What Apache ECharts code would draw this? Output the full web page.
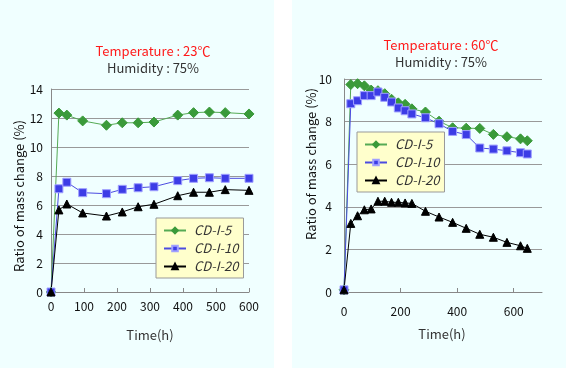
<!DOCTYPE html>
<html>
<head>
<meta charset="utf-8">
<script src="https://cdn.jsdelivr.net/npm/echarts@6/dist/echarts.min.js"></script>
<style>
html,body{margin:0;padding:0;background:#fff;}
#c{width:566px;height:368px;}
</style>
</head>
<body>
<div id="c"></div>
<script>
var seriesNames = ['CD-I-5', 'CD-I-10', 'CD-I-20'];

var timeLeft = [0, 24, 48, 96, 168, 216, 264, 312, 384, 432, 480, 528, 600];
var left5  = [0, 12.34, 12.2, 11.8, 11.5, 11.67, 11.67, 11.72, 12.2, 12.37, 12.41, 12.37, 12.28];
var left10 = [0, 7.12, 7.57, 6.85, 6.78, 7.08, 7.19, 7.26, 7.68, 7.84, 7.88, 7.84, 7.84];
var left20 = [0, 5.66, 6.07, 5.45, 5.24, 5.52, 5.88, 6.05, 6.64, 6.88, 6.88, 7.06, 7.01];

var timeRight = [0, 24, 48, 72, 96, 120, 144, 168, 192, 216, 240, 288, 336, 384, 432, 480, 528, 576, 624, 648];
var right5  = [0.1, 9.74, 9.78, 9.68, 9.48, 9.45, 9.31, 9.05, 8.88, 8.81, 8.6, 8.45, 8.02, 7.71, 7.69, 7.68, 7.4, 7.29, 7.19, 7.1];
var right10 = [0.1, 8.84, 8.98, 9.22, 9.22, 9.39, 9.14, 8.92, 8.64, 8.51, 8.36, 8.18, 7.9, 7.54, 7.39, 6.76, 6.71, 6.63, 6.54, 6.48];
var right20 = [0.1, 3.22, 3.58, 3.86, 3.9, 4.26, 4.26, 4.21, 4.21, 4.18, 4.16, 3.79, 3.52, 3.27, 2.99, 2.71, 2.57, 2.33, 2.17, 2.05];

var leftTitle = ['Temperature : 23℃', 'Humidity : 75%'];
var rightTitle = ['Temperature : 60℃', 'Humidity : 75%'];
var yName = 'Ratio of mass change (%)';
var xName = 'Time(h)';

var FONT = '"Noto Sans CJK JP", sans-serif';

function pairs(xs, ys) { return xs.map(function (x, i) { return [x, ys[i]]; }); }

var styles = [
  { color: '#3a9a3a', line: '#55aa55', symbol: 'diamond', size: [10, 10], border: '#3a9a3a' },
  { color: '#3c3ce6', line: '#4b4be0', symbol: 'rect', size: 8, border: '#a0a0ff' },
  { color: '#000000', line: '#000000', symbol: 'triangle', size: 8, border: '#000000' }
];

function mkSeries(name, idx, data, st) {
  return {
    type: 'line', name: name, xAxisIndex: idx, yAxisIndex: idx,
    data: data, symbol: st.symbol, symbolSize: st.size, showSymbol: true,
    lineStyle: { color: st.line, width: 1 },
    itemStyle: { color: st.color, borderColor: st.border, borderWidth: 1 },
    animation: false
  };
}

var leftData = [left5, left10, left20];
var rightData = [right5, right10, right20];
var series = [];
seriesNames.forEach(function (n, i) { series.push(mkSeries(n, 0, pairs(timeLeft, leftData[i]), styles[i])); });
seriesNames.forEach(function (n, i) { series.push(mkSeries(n, 1, pairs(timeRight, rightData[i]), styles[i])); });

function xAxis(idx, max, interval, margin, showMax) {
  return {
    type: 'value', gridIndex: idx, min: 0, max: max, interval: interval,
    axisLine: { show: true, lineStyle: { color: '#888', width: 1 } },
    axisTick: { show: true, inside: true, length: 4, lineStyle: { color: '#888' } },
    splitLine: { show: false },
    axisLabel: { color: '#111', fontSize: 12, fontFamily: FONT, margin: margin, showMaxLabel: showMax }
  };
}
function yAxis(idx, max, margin) {
  return {
    type: 'value', gridIndex: idx, min: 0, max: max, interval: 2,
    axisLine: { show: true, lineStyle: { color: '#888', width: 1 } },
    axisTick: { show: false },
    splitLine: { show: true, lineStyle: { color: '#999', width: 1 } },
    axisLabel: { color: '#111', fontSize: 12, fontFamily: FONT, margin: margin }
  };
}

function legend(left, top) {
  return {
    orient: 'vertical', left: left, top: top, data: seriesNames,
    backgroundColor: '#ffffcc', borderColor: '#999', borderWidth: 1,
    padding: [6, 5, 5, 7], itemGap: 5, itemWidth: 22, itemHeight: 7,
    textStyle: { fontStyle: 'italic', fontSize: 13, color: '#333', fontFamily: FONT, padding: [0, 0, 0, 3] },
    selectedMode: false
  };
}

function txt(x, y, s, color, rot) {
  return {
    type: 'text', x: x, y: y, rotation: rot || 0,
    style: { text: s, fill: color, font: '13px ' + FONT, textAlign: 'center', textVerticalAlign: 'middle' }
  };
}

var chart = echarts.init(document.getElementById('c'), null, { renderer: 'canvas' });
chart.setOption({
  backgroundColor: '#ffffff',
  animation: false,
  grid: [
    { left: 51, top: 89, width: 198, height: 203 },
    { left: 344, top: 79, width: 198, height: 213 }
  ],
  xAxis: [xAxis(0, 600, 100, 8, true), xAxis(1, 700, 200, 13, false)],
  yAxis: [yAxis(0, 14, 8), yAxis(1, 10, 12)],
  legend: [legend(156, 218), legend(357, 132)],
  graphic: [
    { type: 'rect', z: -10, shape: { x: 0, y: 0, width: 274, height: 368 }, style: { fill: '#f0ffff' } },
    { type: 'rect', z: -10, shape: { x: 292, y: 0, width: 274, height: 368 }, style: { fill: '#f0ffff' } },
    txt(153, 51, leftTitle[0], '#ff1a1a'),
    txt(153, 68, leftTitle[1], '#333333'),
    txt(441, 45, rightTitle[0], '#ff1a1a'),
    txt(441, 62, rightTitle[1], '#333333'),
    txt(19, 196, yName, '#111111', Math.PI / 2),
    txt(311, 164, yName, '#111111', Math.PI / 2),
    txt(150, 335, xName, '#333333'),
    txt(442, 334, xName, '#333333')
  ],
  series: series
});
</script>
</body>
</html>
